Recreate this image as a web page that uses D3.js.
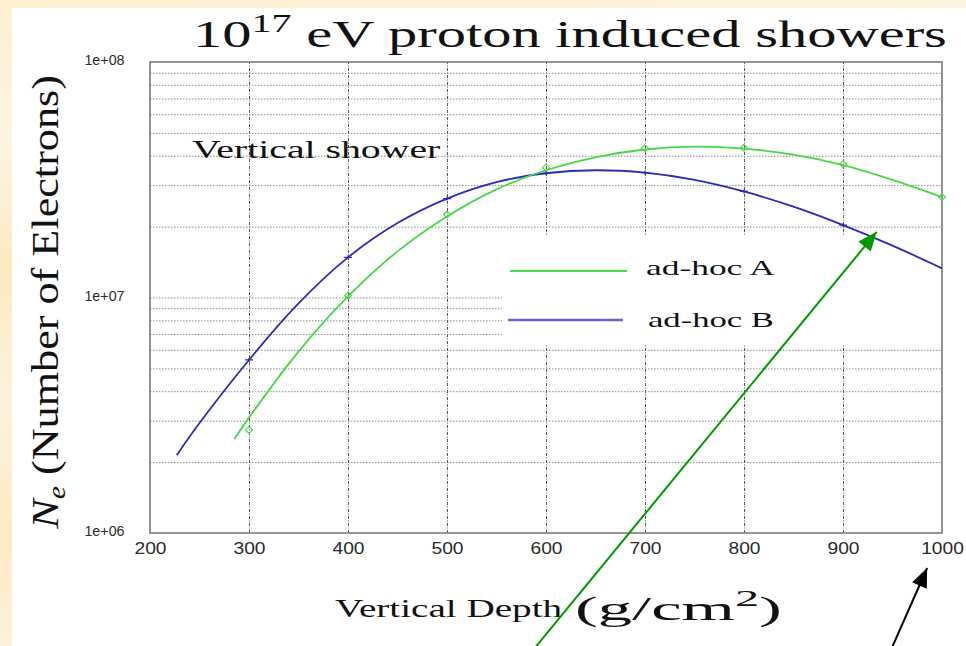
<!DOCTYPE html>
<html><head><meta charset="utf-8">
<script src="https://cdn.jsdelivr.net/npm/d3@7"></script>
<style>html,body{margin:0;padding:0;background:#fdf0d2;} svg{display:block}</style>
</head><body><svg id="c" width="966" height="646"></svg>
<script>
// ---- data ----
const blueDepth = [227, 250, 300, 350, 400, 450, 500, 550, 600, 650, 700, 750, 800, 850, 900, 950, 1000];
const blueNe    = [2.14e6, 2.93e6, 5.43e6, 9.44e6, 1.48e7, 2.07e7, 2.63e7, 3.09e7, 3.37e7, 3.47e7, 3.39e7, 3.16e7, 2.82e7, 2.43e7, 2.03e7, 1.66e7, 1.33e7];
const greenDepth = [285, 300, 350, 400, 450, 500, 550, 600, 650, 700, 750, 800, 850, 900, 950, 1000];
const greenNe    = [2.50e6, 3.09e6, 5.89e6, 1.01e7, 1.57e7, 2.21e7, 2.88e7, 3.47e7, 3.94e7, 4.25e7, 4.37e7, 4.29e7, 4.04e7, 3.65e7, 3.16e7, 2.67e7];
const greenMarkDepth = [300, 400, 500, 600, 700, 800, 900, 1000];
const greenMarkNe    = [2.74e6, 1.02e7, 2.25e7, 3.56e7, 4.3e7, 4.32e7, 3.68e7, 2.67e7];
const blueMarkDepth  = [300, 400, 500, 600, 700, 800, 900];
const blueMarkNe     = [5.43e6, 1.48e7, 2.63e7, 3.37e7, 3.39e7, 2.82e7, 2.03e7];
const xTicks = [200, 300, 400, 500, 600, 700, 800, 900, 1000];
const xGrid  = [300, 400, 500, 600, 700, 800, 900];
const yTicks = [1e6, 1e7, 1e8];
const yTickLabels = ["1e+06", "1e+07", "1e+08"];
const yGrid = [2e6,3e6,4e6,5e6,6e6,7e6,8e6,9e6,1e7,2e7,3e7,4e7,5e7,6e7,7e7,8e7,9e7];
const seriesNames = ["ad-hoc A", "ad-hoc B"];
// annotation arrows, [depth, Ne] of tail and tip
const greenArrow = [[590, 3.3e5], [934, 1.9e7]];
const blackArrow = [[950, 3.3e5], [985, 7.1e5]];

// ---- layout ----
const svg = d3.select("#c");
const L = 150, R = 942, T = 62, B = 533;
const x = d3.scaleLinear().domain([200, 1000]).range([L, R]);
const y = d3.scaleLog().domain([1e6, 1e8]).range([B, T]);
const GREEN = "#46d846", BLUE = "#2b2bb5";

// background
const defs = svg.append("defs");
const bg = defs.append("linearGradient").attr("id","bg").attr("x1",0).attr("y1",0).attr("x2",0.2).attr("y2",1);
[["0","#fdeecd"],["0.2","#fef5e0"],["0.4","#fbe8c3"],["0.6","#fdf2d9"],["0.8","#fce9c5"],["1","#fef3dc"]]
  .forEach(s=>bg.append("stop").attr("offset",s[0]).attr("stop-color",s[1]));
svg.append("rect").attr("width",966).attr("height",646).attr("fill","url(#bg)");
svg.append("rect").attr("x",12).attr("y",8).attr("width",966-12).attr("height",646-8).attr("fill","#ffffff");

// grid
const gy = svg.append("g").attr("transform",`translate(${L},0)`)
  .call(d3.axisLeft(y).tickValues(yGrid).tickSize(-(R-L)).tickFormat(""));
gy.select(".domain").remove();
gy.selectAll("line").attr("stroke","#8a8a8a").attr("stroke-width",1).attr("stroke-dasharray","1.5,1.5");
const gx = svg.append("g").attr("transform",`translate(0,${B})`)
  .call(d3.axisBottom(x).tickValues(xGrid).tickSize(-(B-T)).tickFormat(""));
gx.select(".domain").remove();
gx.selectAll("line").attr("stroke","#555").attr("stroke-width",1).attr("stroke-dasharray","3,1.5,1,1.5");

// legend background (covers grid)
svg.append("rect").attr("x",502).attr("y",236).attr("width",R-502-1).attr("height",108).attr("fill","#fff");

// frame
svg.append("rect").attr("x",L).attr("y",T).attr("width",R-L).attr("height",B-T)
  .attr("fill","none").attr("stroke","#7a7a7a").attr("stroke-width",1.6);

// axes labels
const ax = svg.append("g").attr("transform",`translate(0,${B})`)
  .call(d3.axisBottom(x).tickValues(xTicks).tickSize(0).tickPadding(10).tickFormat(d3.format("d")));
ax.select(".domain").remove();
ax.selectAll("text").attr("font-family","Liberation Sans, Arial, sans-serif").attr("font-size",16)
  .attr("fill","#2a2a2a").attr("transform","scale(1.2,1)");
const ay = svg.append("g").attr("transform",`translate(${L},0)`)
  .call(d3.axisLeft(y).tickValues(yTicks).tickSize(0).tickPadding(25).tickFormat((d,i)=>yTickLabels[i]));
ay.select(".domain").remove();
ay.selectAll("text").attr("font-family","Liberation Sans, Arial, sans-serif").attr("font-size",14)
  .attr("fill","#2a2a2a").attr("dy","0.2em").attr("transform","scale(1.02,1)");

// curves
const line = d3.line().x(d=>x(d[0])).y(d=>y(d[1])).curve(d3.curveCatmullRom.alpha(0.5));
svg.append("path").datum(blueDepth.map((d,i)=>[d, blueNe[i]]))
  .attr("d",line).attr("fill","none").attr("stroke",BLUE).attr("stroke-width",1.8);
svg.append("path").datum(greenDepth.map((d,i)=>[d, greenNe[i]]))
  .attr("d",line).attr("fill","none").attr("stroke",GREEN).attr("stroke-width",1.8);

// markers
svg.append("g").selectAll("path").data(greenMarkDepth.map((d,i)=>[d, greenMarkNe[i]])).join("path")
  .attr("d", d=>{const px=x(d[0]), py=y(d[1]); return `M${px},${py-3.5}L${px+3.5},${py}L${px},${py+3.5}L${px-3.5},${py}Z`;})
  .attr("fill","none").attr("stroke",GREEN).attr("stroke-width",1.1);
svg.append("g").selectAll("path").data(blueMarkDepth.map((d,i)=>[d, blueMarkNe[i]])).join("path")
  .attr("d", d=>{const px=x(d[0]), py=y(d[1]); return `M${px-4},${py}L${px+4},${py}M${px},${py-2}L${px},${py+2}`;})
  .attr("fill","none").attr("stroke",BLUE).attr("stroke-width",1.2);

// text helper: place text at (x0,y0) stretched to target width
function fitText(g, x0, y0, targetW, rot) {
  const bb = g.node().getBBox();
  const s = targetW / bb.width;
  g.attr("transform", `translate(${x0},${y0})${rot?` rotate(${rot})`:""} scale(${s},1) translate(${-bb.x},0)`);
}
const SERIF = "Liberation Serif, Times New Roman, serif";

// title
const title = svg.append("text").attr("font-family",SERIF).attr("font-size",38).attr("fill","#111");
title.append("tspan").text("10");
title.append("tspan").attr("font-size",26).attr("dy",-15).text("17");
title.append("tspan").attr("dy",15).text(" eV proton induced showers");
fitText(title, 193, 47, 754);

// in-plot label
const vs = svg.append("text").attr("font-family",SERIF).attr("font-size",26).attr("fill","#111").text("Vertical shower");
fitText(vs, 192, 158, 249);

// legend
const lg = svg.append("g");
lg.append("line").attr("x1",510).attr("x2",627).attr("y1",271).attr("y2",271).attr("stroke","#4cd94c").attr("stroke-width",2);
lg.append("line").attr("x1",508).attr("x2",623).attr("y1",320).attr("y2",320).attr("stroke","#6262cf").attr("stroke-width",2.6);
const la = lg.append("text").attr("font-family",SERIF).attr("font-size",22).attr("fill","#111").text(seriesNames[0]);
fitText(la, 646, 275, 129);
const lb = lg.append("text").attr("font-family",SERIF).attr("font-size",22).attr("fill","#111").text(seriesNames[1]);
fitText(lb, 648, 327, 126);

// x label
const xl1 = svg.append("text").attr("font-family",SERIF).attr("font-size",25).attr("fill","#111").text("Vertical Depth");
fitText(xl1, 335, 617, 228);
const xl2 = svg.append("text").attr("font-family",SERIF).attr("font-size",34).attr("fill","#111");
xl2.append("tspan").text("(g/cm");
xl2.append("tspan").attr("font-size",24).attr("dy",-14).text("2");
xl2.append("tspan").attr("dy",14).text(")");
fitText(xl2, 575, 620, 207);

// y label
const yl = svg.append("text").attr("font-family",SERIF).attr("font-size",37).attr("fill","#111");
yl.append("tspan").attr("font-style","italic").text("N");
yl.append("tspan").attr("font-style","italic").attr("font-size",25).attr("dy",7).text("e");
yl.append("tspan").attr("dy",-7).text(" (Number of Electrons)");
fitText(yl, 58, 530, 455, -90);

// annotation arrows
function arrowHead(id, color) {
  defs.append("marker").attr("id",id).attr("markerUnits","userSpaceOnUse")
    .attr("viewBox","-20 -10 22 20").attr("refX",0).attr("refY",0)
    .attr("markerWidth",22).attr("markerHeight",20).attr("orient","auto")
    .append("path").attr("d","M0,0L-19,-8L-19,8Z").attr("fill",color);
}
arrowHead("ag","#009a00");
arrowHead("ab","#000");
const al = d3.line().x(d=>x(d[0])).y(d=>y(d[1]));
svg.append("path").attr("d",al(greenArrow)).attr("stroke","#009a00").attr("stroke-width",2).attr("fill","none").attr("marker-end","url(#ag)");
svg.append("path").attr("d",al(blackArrow)).attr("stroke","#000").attr("stroke-width",2).attr("fill","none").attr("marker-end","url(#ab)");
</script>
</body></html>
